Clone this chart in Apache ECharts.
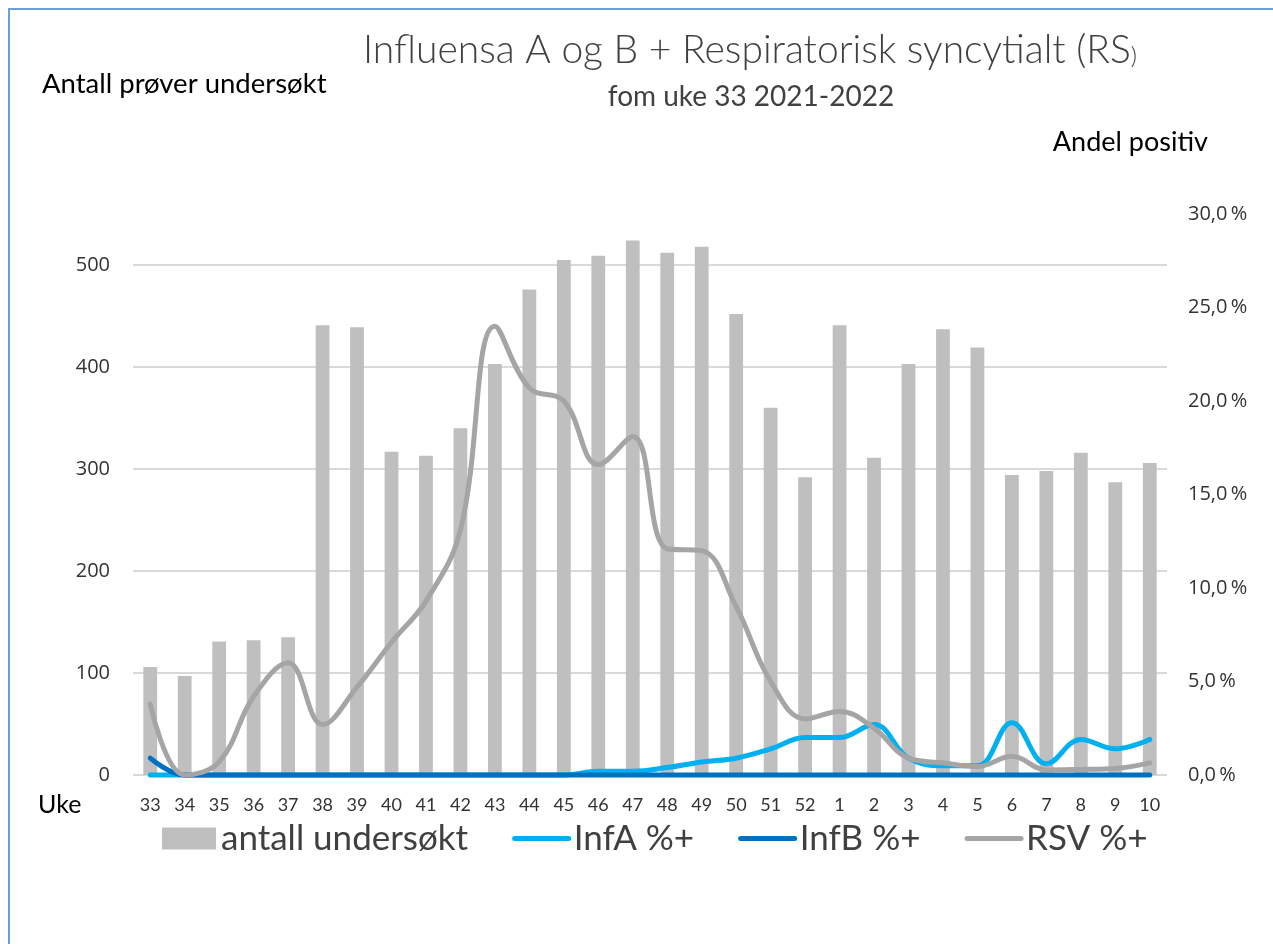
<!DOCTYPE html>
<html>
<head>
<meta charset="utf-8">
<script src="https://cdn.jsdelivr.net/npm/echarts@6/dist/echarts.min.js"></script>
<style>
  html, body { margin: 0; padding: 0; background: #fff; overflow: hidden; }
  #frame { position: absolute; left: 8px; top: 8px; width: 1400px; height: 1100px; border: 2px solid #6a9fd8; box-sizing: border-box; }
  #chart { position: absolute; left: 0; top: 0; width: 1273px; height: 944px; }
</style>
</head>
<body>
<div id="frame"></div>
<div id="chart"></div>
<script>
// uke 33 2021 -> uke 10 2022
const weeks = ['33','34','35','36','37','38','39','40','41','42','43','44','45','46','47','48','49','50','51','52','1','2','3','4','5','6','7','8','9','10']

const antall = [106, 97, 131, 132, 135, 441, 439, 317, 313, 340, 403, 476, 505, 509, 524, 512, 518, 452, 360, 292, 441, 311, 403, 437, 419, 294, 298, 316, 287, 306]

// andel positiv, prosent
const infA = [0, 0, 0, 0, 0, 0, 0, 0, 0, 0, 0, 0, 0, 0.2, 0.2, 0.4, 0.7, 0.9, 1.4, 2.0, 2.0, 2.7, 0.9, 0.5, 0.5, 2.8, 0.6, 1.9, 1.4, 1.9]
const infB = [0.9, 0, 0, 0, 0, 0, 0, 0, 0, 0, 0, 0, 0, 0, 0, 0, 0, 0, 0, 0, 0, 0, 0, 0, 0, 0, 0, 0, 0, 0]
const rsv = [3.8, 0, 0.7, 4.2, 6.0, 2.7, 4.7, 7.1, 9.3, 13.1, 24.0, 20.7, 20.0, 16.6, 18.1, 12.1, 12.0, 9.0, 5.0, 3.0, 3.4, 2.5, 0.9, 0.65, 0.45, 1.0, 0.27, 0.3, 0.35, 0.65]

const calibri = 'Lato, "Open Sans", sans-serif'
const segoe = '"Open Sans", "Noto Sans", sans-serif'
const txt = '#333333'

const chart = echarts.init(document.getElementById('chart'))

const option = {
  animation: false,
  backgroundColor: 'transparent',
  graphic: [
    {
      type: 'text', x: 750, y: 50,
      style: {
        text: 'Influensa A og B + Respiratorisk syncytialt (RS{s|)}',
        font: '300 39px ' + calibri, fill: '#404040',
        textAlign: 'center', textVerticalAlign: 'middle',
        rich: { s: { fontSize: 24, fontWeight: 300, fontFamily: calibri, fill: '#404040', padding: [12, 0, 0, 0] } }
      }
    },
    {
      type: 'text', x: 751, y: 97,
      style: { text: 'fom uke 33 2021-2022', font: '28px ' + calibri, fill: '#404040', textAlign: 'center', textVerticalAlign: 'middle' }
    },
    {
      type: 'text', x: 42, y: 84,
      style: { text: 'Antall prøver undersøkt', font: '27.5px ' + calibri, fill: '#000', textAlign: 'left', textVerticalAlign: 'middle' }
    },
    {
      type: 'text', x: 1208, y: 142,
      style: { text: 'Andel positiv', font: '27px ' + calibri, fill: '#000', textAlign: 'right', textVerticalAlign: 'middle' }
    },
    {
      type: 'text', x: 38, y: 805,
      style: { text: 'Uke', font: '25px ' + calibri, fill: '#000', textAlign: 'left', textVerticalAlign: 'middle' }
    }
  ],
  legend: {
    left: 157,
    top: 816,
    itemGap: 44,
    itemWidth: 54,
    itemHeight: 22,
    textStyle: { fontFamily: calibri, fontSize: 35, color: '#404040' },
    lineStyle: { width: 5, cap: 'round' },
    data: [
      { name: 'antall undersøkt', icon: 'rect' },
      { name: 'InfA %+', itemStyle: { opacity: 0 } },
      { name: 'InfB %+', itemStyle: { opacity: 0 } },
      { name: 'RSV %+', itemStyle: { opacity: 0 } }
    ]
  },
  grid: { left: 133, right: 106, top: 214, bottom: 169 },
  xAxis: {
    type: 'category',
    data: weeks,
    axisLine: { show: false },
    axisTick: { show: false },
    axisLabel: { fontFamily: calibri, fontSize: 18, color: txt, margin: 21, interval: 0 }
  },
  yAxis: [
    {
      type: 'value', min: 0, max: 550, interval: 100,
      axisLine: { show: false }, axisTick: { show: false },
      axisLabel: {
        fontFamily: segoe, fontSize: 20, color: txt, margin: 23, showMaxLabel: false,
        formatter: v => (v % 100 === 0 ? String(v) : '')
      },
      splitLine: { lineStyle: { width: 2, color: ['#d9d9d9', '#d9d9d9', '#d9d9d9', '#d9d9d9', '#d9d9d9', '#d9d9d9', 'rgba(0,0,0,0)'] } }
    },
    {
      type: 'value', min: 0, max: 30, interval: 5, position: 'right',
      axisLine: { show: false }, axisTick: { show: false }, splitLine: { show: false },
      axisLabel: {
        fontFamily: segoe, fontSize: 20, color: txt, margin: 21,
        formatter: v => v.toFixed(1).replace('.', ',') + '\u2009%'
      }
    }
  ],
  series: [
    {
      name: 'antall undersøkt', type: 'bar', data: antall, barWidth: '40%',
      itemStyle: { color: '#bfbfbf' }
    },
    {
      name: 'InfA %+', type: 'line', yAxisIndex: 1, data: infA, smooth: 0.4,
      symbol: 'none', clip: false, color: '#00b0f0',
      lineStyle: { width: 5, color: '#00b0f0', cap: 'round' }
    },
    {
      name: 'InfB %+', type: 'line', yAxisIndex: 1, data: infB, smooth: 0.4,
      symbol: 'none', clip: false, color: '#0070c0',
      lineStyle: { width: 5, color: '#0070c0', cap: 'round' }
    },
    {
      name: 'RSV %+', type: 'line', yAxisIndex: 1, data: rsv, smooth: 0.4,
      symbol: 'none', clip: false, color: '#a5a5a5',
      lineStyle: { width: 5, color: '#a5a5a5', cap: 'round' }
    }
  ]
}

chart.setOption(option)
window.addEventListener('resize', () => chart.resize())
</script>
</body>
</html>
